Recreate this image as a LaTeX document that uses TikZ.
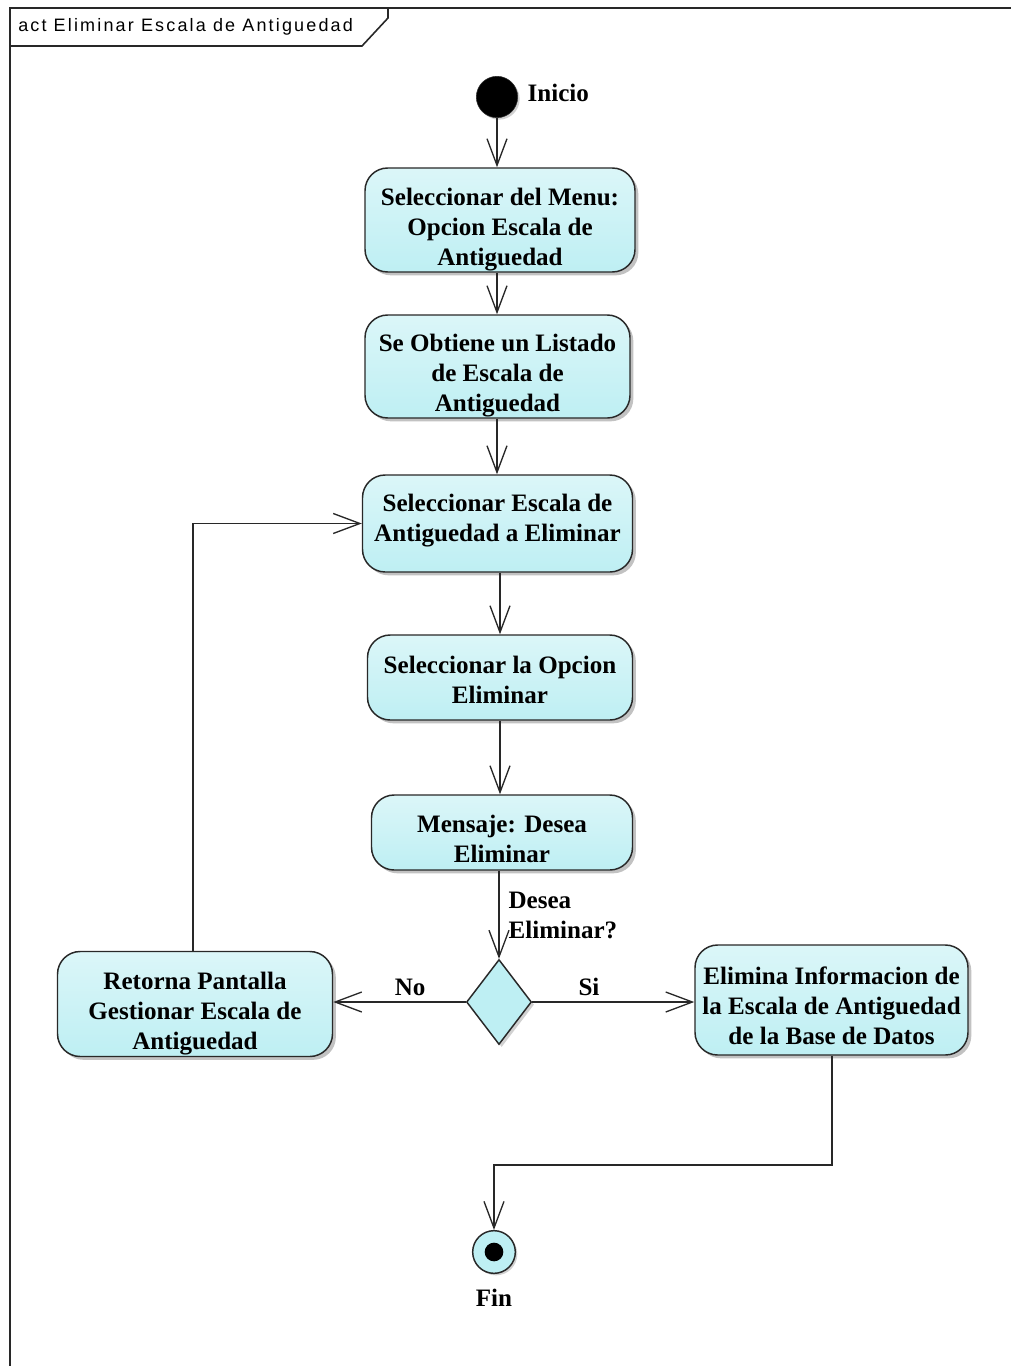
\documentclass[tikz,border=0pt]{standalone}
\usepackage{fontspec}
\setmainfont{Liberation Serif}
\newfontfamily\titlefont[LetterSpace=12]{Liberation Sans}
\usetikzlibrary{arrows.meta,shapes.geometric,shadows,calc}
\definecolor{actfill}{RGB}{190,239,243}
\definecolor{actline}{RGB}{40,40,40}
\newcommand{\boxtext}[2]{\raisebox{#1}[0pt][0pt]{\begin{tabular}{@{}c@{}}#2\end{tabular}}}
\tikzset{
  actbox/.style={draw=actline, line width=1.1pt, rounded corners=17pt,
    top color=actfill!55, bottom color=actfill,
    font=\fontsize{18.8}{22.5}\selectfont\bfseries, inner sep=0pt,
    drop shadow={shadow xshift=2.5pt, shadow yshift=-2.5pt, fill=black!40, opacity=0.6}},
  flow/.style={draw=actline, line width=1.1pt,
    -{Straight Barb[length=20pt,width=15pt,line width=1pt]}},
  lbl/.style={font=\fontsize{18.8}{22.5}\selectfont\bfseries, inner sep=1pt},
}
\begin{document}
\begin{tikzpicture}[x=0.75pt,y=-0.75pt]
\useasboundingbox (0,0) rectangle (1010,1366);
% frame
\draw[actline, line width=1.5pt] (1012,8) -- (10,8) -- (10,1368);
\draw[actline, line width=1.2pt] (10,46) -- (362,46) -- (388,18) -- (388,8);
\node[anchor=west, font=\titlefont\fontsize{13.5}{15}\selectfont, inner sep=0pt] (title) at (18,27) {act Eliminar Escala de Antiguedad};

% nodes
\node[circle, fill=black, draw=actline, minimum size=31pt, inner sep=0pt,
  drop shadow={shadow xshift=1.5pt, shadow yshift=-1.5pt, fill=black!30, opacity=0.6}] (start) at (497,97) {};
\node[lbl, anchor=west] (startlbl) at (526,93) {Inicio};

\node[actbox, minimum width=202.5pt, minimum height=78pt] (b1) at (500,220)
  {\boxtext{-11.1pt}{Seleccionar del Menu:\\Opcion Escala de\\Antiguedad}};
\node[actbox, minimum width=198.75pt, minimum height=77.25pt] (b2) at (497.5,366.5)
  {\boxtext{-11.1pt}{Se Obtiene un Listado\\de Escala de\\Antiguedad}};
\node[actbox, minimum width=202.5pt, minimum height=72.75pt] (b3) at (497.5,523.5)
  {\boxtext{-2.1pt}{Seleccionar Escala de\\Antiguedad a Eliminar}};
\node[actbox, minimum width=198.75pt, minimum height=63.75pt] (b4) at (500,677.5)
  {\boxtext{-8.1pt}{Seleccionar la Opcion\\Eliminar}};
\node[actbox, minimum width=195.75pt, minimum height=56.25pt] (b5) at (502,832.5)
  {\boxtext{-11.1pt}{Mensaje: Desea\\Eliminar}};
\node[diamond, draw=actline, line width=1.1pt, fill=actfill, aspect=0.76,
  minimum width=48.75pt, minimum height=63.75pt, inner sep=0pt,
  drop shadow={shadow xshift=2pt, shadow yshift=-2pt, fill=black!30, opacity=0.6}] (dec) at (499,1002) {};
\node[actbox, minimum width=204.75pt, minimum height=82.5pt] (bsi) at (831.5,1000)
  {\boxtext{-10.7pt}{Elimina Informacion de\\la Escala de Antiguedad\\de la Base de Datos}};
\node[actbox, minimum width=206.25pt, minimum height=78.75pt] (bno) at (195,1004)
  {\boxtext{-11.5pt}{Retorna Pantalla\\Gestionar Escala de\\Antiguedad}};
\node[circle, draw=actline, line width=1.1pt, fill=actfill, minimum size=32pt, inner sep=0pt,
  drop shadow={shadow xshift=1.5pt, shadow yshift=-1.5pt, fill=black!30, opacity=0.6}] (fin) at (494,1252) {};
\node[circle, fill=black, minimum size=14pt, inner sep=0pt] (findot) at (fin) {};
\node[lbl] (finlbl) at (494,1298) {Fin};
\node[lbl, anchor=west, align=left] (declbl) at (507,915) {Desea\\Eliminar?};

\coordinate (c1) at (193,523.5);
\coordinate (c2) at (832,1165);

% connectors
\draw[flow] (start.south) -- (start.south |- b1.north);
\draw[flow] (b1.south -| start) -- (b2.north -| start);
\draw[flow] (b2.south -| start) -- (b3.north -| start);
\draw[flow] (b3.south -| b4) -- (b4.north);
\draw[flow] (b4.south) -- (b4.south |- b5.north);
\draw[flow] (b5.south -| dec) -- (dec.north);
\draw[flow] (dec.west) -- node[lbl, above, pos=0.42, yshift=3pt] (nolbl) {No} (dec.west -| bno.east);
\draw[flow] (dec.east) -- node[lbl, above, pos=0.35, yshift=3pt] (silbl) {Si} (dec.east -| bsi.west);
\draw[flow] (bno.north -| c1) -- (c1) -- (b3.west);
\draw[flow] (bsi.south -| c2) -- (c2) -- (c2 -| fin) -- (fin.north);
\end{tikzpicture}
\end{document}
